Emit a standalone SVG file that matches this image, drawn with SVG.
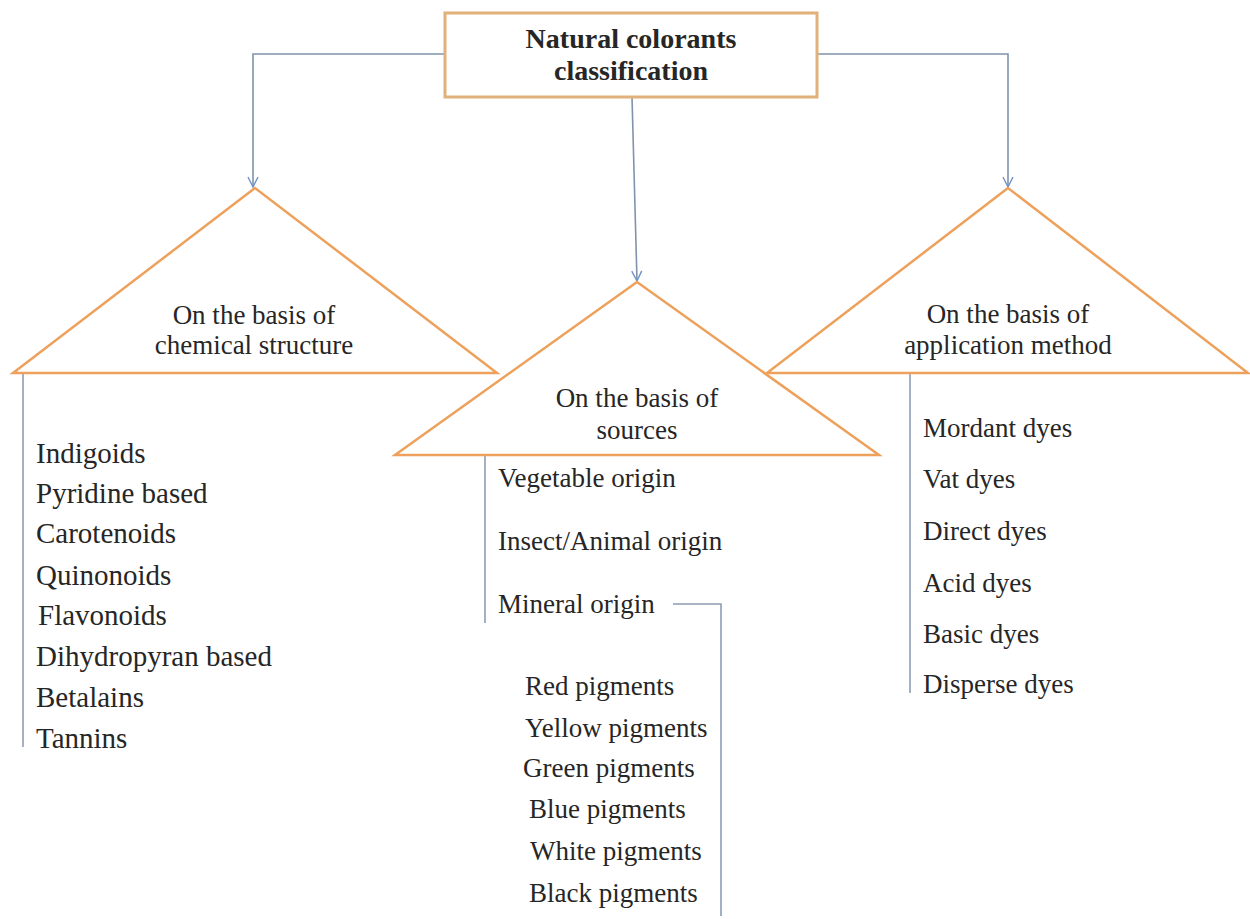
<svg xmlns="http://www.w3.org/2000/svg" width="1250" height="919" viewBox="0 0 1250 919">
<defs>
<style>
.tri{fill:none;stroke:#eda15c;stroke-width:2.5;stroke-linejoin:miter}
.box{fill:#ffffff;stroke:#e2b07a;stroke-width:3}
.con{fill:none;stroke:#8193ab;stroke-width:1.6}
.lst{fill:none;stroke:#8d9db3;stroke-width:1.6}
text{font-family:"Liberation Serif","Times New Roman",serif;fill:#262626}
.t{font-size:27px;text-anchor:middle}
.h{font-size:28px;font-weight:bold;text-anchor:middle}
.l{font-size:29px}
.m{font-size:27px}
</style>
<marker id="arr" viewBox="0 0 12 12" refX="11" refY="6" markerWidth="12" markerHeight="12" markerUnits="userSpaceOnUse" orient="auto">
<path d="M1,1 L11,6 L1,11" fill="none" stroke="#6f93c6" stroke-width="1.4"/>
</marker>
</defs>
<rect width="1250" height="919" fill="#ffffff"/>
<g id="connectors">
<path class="con" d="M445,54 L253,54 L253,187" marker-end="url(#arr)"/>
<path class="con" d="M817,54 L1008,54 L1008,187" marker-end="url(#arr)"/>
<path class="con" d="M632,97 L637,281" marker-end="url(#arr)"/>
<path class="lst" d="M23,374 L23,747"/>
<path class="lst" d="M485,455 L485,623"/>
<path class="lst" d="M910,374 L910,693"/>
<path class="lst" d="M673,604 L721,604 L721,916"/>
</g>
<g id="root">
<rect class="box" x="445" y="13" width="372" height="84"/>
<text class="h" x="631" y="48">Natural colorants</text>
<text class="h" x="631" y="80">classification</text>
</g>
<g id="chemical">
<polygon class="tri" points="255,188 13,373 497,373"/>
<text class="t" x="254" y="324">On the basis of</text>
<text class="t" x="254" y="354">chemical structure</text>
</g>
<g id="sources">
<polygon class="tri" points="637,282 395,455 879,455"/>
<text class="t" x="637" y="407">On the basis of</text>
<text class="t" x="637" y="439">sources</text>
</g>
<g id="application">
<polygon class="tri" points="1008,188 767,373 1248,373"/>
<text class="t" x="1008" y="323">On the basis of</text>
<text class="t" x="1008" y="354">application method</text>
</g>
<g id="chemical-list">
<text class="l" x="36" y="463">Indigoids</text>
<text class="l" x="36" y="503">Pyridine based</text>
<text class="l" x="36" y="543">Carotenoids</text>
<text class="l" x="36" y="585">Quinonoids</text>
<text class="l" x="38" y="625">Flavonoids</text>
<text class="l" x="36" y="666">Dihydropyran based</text>
<text class="l" x="36" y="707">Betalains</text>
<text class="l" x="36" y="748">Tannins</text>
</g>
<g id="sources-list">
<text class="m" x="498" y="487">Vegetable origin</text>
<text class="m" x="498" y="550">Insect/Animal origin</text>
<text class="m" x="498" y="613">Mineral origin</text>
</g>
<g id="mineral-list">
<text class="m" x="525" y="695">Red pigments</text>
<text class="m" x="525" y="737">Yellow pigments</text>
<text class="m" x="523" y="777">Green pigments</text>
<text class="m" x="529" y="818">Blue pigments</text>
<text class="m" x="530" y="860">White pigments</text>
<text class="m" x="529" y="902">Black pigments</text>
</g>
<g id="application-list">
<text class="m" x="923" y="437">Mordant dyes</text>
<text class="m" x="923" y="488">Vat dyes</text>
<text class="m" x="923" y="540">Direct dyes</text>
<text class="m" x="923" y="592">Acid dyes</text>
<text class="m" x="923" y="643">Basic dyes</text>
<text class="m" x="923" y="693">Disperse dyes</text>
</g>
</svg>
